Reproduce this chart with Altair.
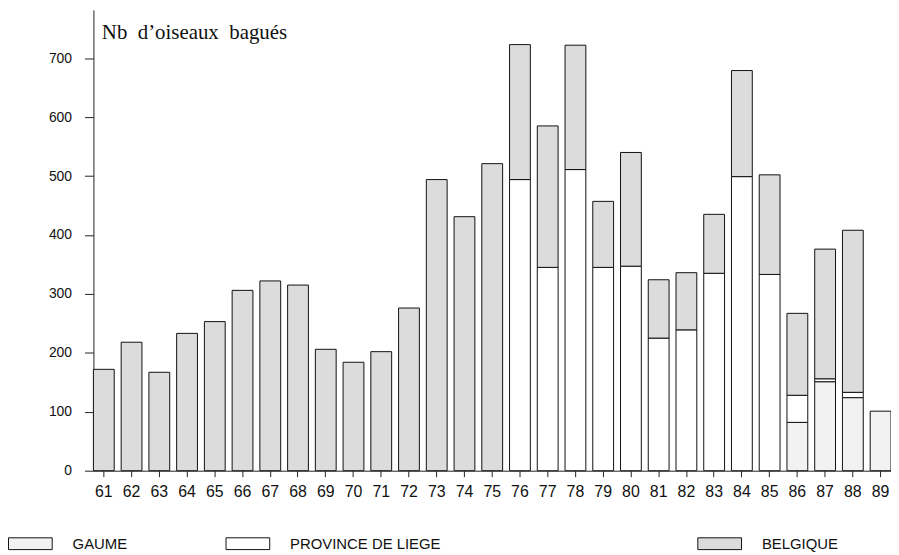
import altair as alt
import pandas as pd

years = [str(y) for y in range(61, 90)]
gaume = [0] * 15 + [0] * 10 + [82, 151, 124, 101]
liege = [0] * 15 + [494, 345, 511, 345, 347, 225, 239, 335, 499, 333] + [46, 5, 9, 0]
belgique = [172, 218, 167, 233, 253, 306, 322, 315, 206, 184, 202, 276, 494, 431, 521,
            229, 240, 211, 112, 193, 99, 97, 100, 180, 169,
            139, 220, 275, 0]

series_names = ["GAUME", "PROVINCE DE LIEGE", "BELGIQUE"]
series_vals = [gaume, liege, belgique]
colors = ["#f2f2f2", "#ffffff", "#dcdcdc"]
y_ticks = [0, 100, 200, 300, 400, 500, 600, 700]

rows = []
for k, (name, vals) in enumerate(zip(series_names, series_vals)):
    for yr, v in zip(years, vals):
        rows.append({"year": yr, "series": name, "order": k, "value": v})
df = pd.DataFrame(rows)

FONT = "Liberation Sans"

base = alt.Chart(df).transform_stack(
    stack="value", groupby=["year"], as_=["y0", "y1"],
    sort=[alt.SortField("order", order="ascending")]
)

yaxis = alt.Axis(
    values=y_ticks,
    title="Nb\u00a0\u00a0d\u2019oiseaux\u00a0\u00a0bagués",
    titleAngle=0, titleAlign="left", titleBaseline="alphabetic",
    titleX=8, titleY=29, titleFont="Liberation Serif", titleFontSize=21,
    titleFontWeight="normal", titleColor="#111",
    labelFont=FONT, labelFontSize=14, labelColor="#111", labelPadding=13,
    tickSize=9, tickColor="#222", domainColor="#222", grid=False,
)
xaxis = alt.Axis(title=None, labelAngle=0, labelFont=FONT, labelFontSize=16,
                 labelColor="#111", labelPadding=7, tickSize=6,
                 tickColor="#222", domainColor="#222", grid=False)

legend_x = [-86, 133, 608]
layers = []
for k, name in enumerate(series_names):
    layer = base.transform_filter(
        (alt.datum.series == name) & (alt.datum.value > 0)
    ).mark_bar(stroke="#111", strokeWidth=1).encode(
        x=alt.X("year:O", sort=years,
                scale=alt.Scale(paddingInner=0.25, paddingOuter=0), axis=xaxis),
        y=alt.Y("y0:Q", scale=alt.Scale(domain=[0, 782], nice=False), axis=yaxis),
        y2="y1:Q",
        fill=alt.Fill("series:N", scale=alt.Scale(domain=[name], range=[colors[k]]),
                      legend=alt.Legend(
                          title=None, orient="none", legendX=legend_x[k], legendY=515,
                          symbolType="M-1,-0.27L1,-0.27L1,0.27L-1,0.27Z",
                          symbolSize=1936, symbolStrokeColor="#111", symbolStrokeWidth=1,
                          labelFont=FONT, labelFontSize=15, labelColor="#111",
                          labelOffset=20)),
    )
    layers.append(layer)

chart = alt.layer(*layers).resolve_scale(fill="independent").resolve_legend(
    fill="independent"
).properties(
    width=803, height=464,
    autosize=alt.AutoSizeParams(type="none"),
    padding={"left": 86, "top": 0, "right": 0, "bottom": 80},
).configure_view(stroke=None)

chart.save("out.html", embed_options={"renderer": "svg", "actions": False})
